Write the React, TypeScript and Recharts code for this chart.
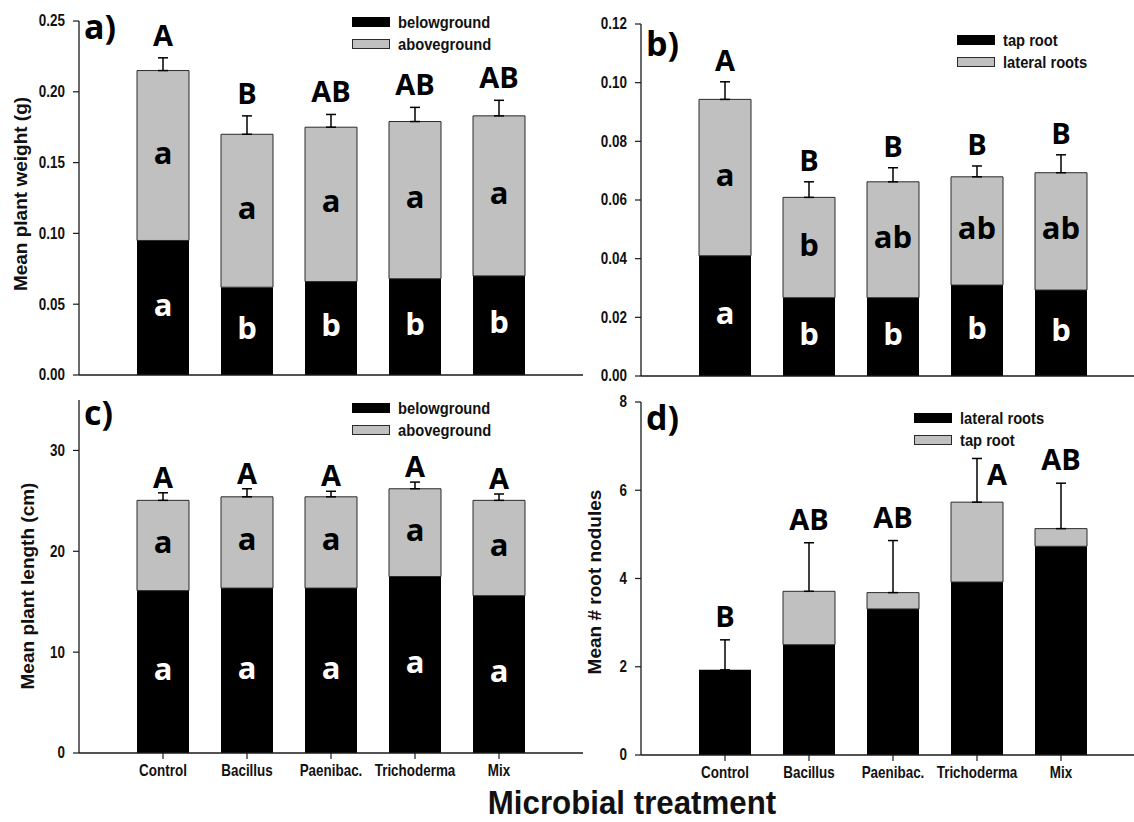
import {
  ComposedChart,
  Bar,
  Scatter,
  XAxis,
  YAxis,
  ErrorBar,
  LabelList,
} from "recharts";

const CATEGORIES = ["Control", "Bacillus", "Paenibac.", "Trichoderma", "Mix"];

// a) plant weight (g)
const WEIGHT_BELOW = [0.095, 0.062, 0.066, 0.068, 0.07];
const WEIGHT_ABOVE = [0.12, 0.108, 0.109, 0.111, 0.113];
const WEIGHT_ERR = [0.009, 0.013, 0.009, 0.01, 0.011];
const WEIGHT_GROUPS = ["A", "B", "AB", "AB", "AB"];
const WEIGHT_BELOW_TAGS = ["a", "b", "b", "b", "b"];
const WEIGHT_ABOVE_TAGS = ["a", "a", "a", "a", "a"];

// b) root weight (g)
const TAP_WEIGHT = [0.041, 0.0267, 0.0267, 0.031, 0.0293];
const LATERAL_WEIGHT = [0.0533, 0.0342, 0.0395, 0.0369, 0.04];
const ROOT_ERR = [0.006, 0.0053, 0.0048, 0.0037, 0.0061];
const ROOT_GROUPS = ["A", "B", "B", "B", "B"];
const TAP_TAGS = ["a", "b", "b", "b", "b"];
const LATERAL_TAGS = ["a", "b", "ab", "ab", "ab"];

// c) plant length (cm)
const LENGTH_BELOW = [16.1, 16.35, 16.35, 17.5, 15.6];
const LENGTH_ABOVE = [8.95, 9.05, 9.05, 8.7, 9.45];
const LENGTH_ERR = [0.75, 0.8, 0.55, 0.66, 0.63];
const LENGTH_GROUPS = ["A", "A", "A", "A", "A"];
const LENGTH_BELOW_TAGS = ["a", "a", "a", "a", "a"];
const LENGTH_ABOVE_TAGS = ["a", "a", "a", "a", "a"];

// d) root nodules
const NODULE_LATERAL = [1.93, 2.5, 3.31, 3.92, 4.73];
const NODULE_TAP = [0, 1.21, 0.37, 1.81, 0.4];
const NODULE_ERR = [0.68, 1.1, 1.18, 0.99, 1.03];
const NODULE_GROUPS = ["B", "AB", "AB", "A", "AB"];

const WEIGHT_TICKS = [0, 0.05, 0.1, 0.15, 0.2, 0.25];
const ROOT_TICKS = [0, 0.02, 0.04, 0.06, 0.08, 0.1, 0.12];
const LENGTH_TICKS = [0, 10, 20, 30];
const NODULE_TICKS = [0, 2, 4, 6, 8];

const BLACK = "#000000";
const GRAY = "#c0c0c0";
const EDGE = "#2a2a2a";
const AXIS = "#1a1a1a";
const ARIAL = "'Liberation Sans', Arial, sans-serif";
const CALIBRI = "'Open Sans', 'Noto Sans', sans-serif";

type Row = {
  cat: string;
  low: number;
  high: number;
  errLow: [number, number] | null;
  errHigh: [number, number] | null;
  top: number;
  group: string;
  lowTag: string;
  highTag: string;
};

function buildRows(
  low: number[],
  high: number[],
  err: number[],
  groups: string[],
  lowTags: string[] = [],
  highTags: string[] = [],
): Row[] {
  return CATEGORIES.map((cat, i) => ({
    cat,
    low: low[i],
    high: high[i],
    // the error bar sits on whichever segment is on top of the stack
    errLow: high[i] > 0 ? null : [0, err[i]],
    errHigh: high[i] > 0 ? [0, err[i]] : null,
    top: low[i] + high[i] + err[i],
    group: groups[i],
    lowTag: lowTags[i] ?? "",
    highTag: highTags[i] ?? "",
  }));
}

function Narrow({
  x,
  y,
  size,
  anchor = "start",
  baseline,
  squeeze = 0.84,
  children,
}: {
  x: number;
  y: number;
  size: number;
  anchor?: "start" | "middle" | "end";
  baseline?: string;
  squeeze?: number;
  children: React.ReactNode;
}) {
  return (
    <text
      transform={`translate(${x},${y}) scale(${squeeze},1)`}
      fontFamily={ARIAL}
      fontWeight="bold"
      fontSize={size}
      textAnchor={anchor}
      dominantBaseline={baseline as any}
      fill="#111"
    >
      {children}
    </text>
  );
}

const insideTag = (color: string) => (props: any) => {
  const vb = props.viewBox ?? props;
  if (!props.value) return null;
  const cx = vb.x + vb.width / 2;
  const cy = vb.y + vb.height / 2;
  return (
    <text
      x={cx}
      y={cy + 8}
      textAnchor="middle"
      fontFamily={CALIBRI}
      fontWeight="bold"
      fontSize={31}
      fill={color}
    >
      {props.value}
    </text>
  );
};

const groupLetter =
  (gap: number, nudge: Record<string, [number, number]>) => (p: any) => {
    const [dx, dy] = nudge[p.payload.cat] ?? [0, -gap];
    return (
      <text
        x={p.cx + dx}
        y={p.cy + dy}
        textAnchor="middle"
        fontFamily={CALIBRI}
        fontWeight="bold"
        fontSize={29}
        fill="#000"
      >
        {p.payload.group}
      </text>
    );
  };

function Panel({
  left,
  top,
  width,
  height,
  margin,
  yWidth,
  xHeight,
  domain,
  ticks,
  digits,
  rows,
  labels,
  padRight,
  gap,
  nudge = {},
}: {
  left: number;
  top: number;
  width: number;
  height: number;
  margin: { top: number; right: number; bottom: number; left: number };
  yWidth: number;
  xHeight: number;
  domain: [number, number];
  ticks: number[];
  digits: number;
  rows: Row[];
  labels: boolean;
  padRight: number;
  gap: number;
  nudge?: Record<string, [number, number]>;
}) {
  return (
    <div style={{ position: "absolute", left, top }}>
      <ComposedChart width={width} height={height} data={rows} margin={margin}>
        <XAxis
          dataKey="cat"
          type="category"
          height={xHeight}
          padding={{ left: 42, right: padRight }}
          axisLine={{ stroke: AXIS, strokeWidth: 1.3 }}
          tickLine={{ stroke: AXIS, strokeWidth: 1.2 }}
          tickSize={6}
          tickMargin={2}
          interval={0}
          tick={
            labels
              ? (t: any) => (
                  <Narrow x={t.x} y={t.y + 15} size={16} anchor="middle">
                    {t.payload.value}
                  </Narrow>
                )
              : false
          }
        />
        <YAxis
          type="number"
          domain={domain}
          ticks={ticks}
          width={yWidth}
          axisLine={{ stroke: AXIS, strokeWidth: 1.3 }}
          tickLine={{ stroke: AXIS, strokeWidth: 1.2 }}
          tickSize={6}
          tickMargin={8}
          interval={0}
          tick={(t: any) => (
            <Narrow x={t.x} y={t.y} size={16} anchor="end" baseline="central">
              {Number(t.payload.value).toFixed(digits)}
            </Narrow>
          )}
        />
        <Bar
          dataKey="low"
          stackId="s"
          fill={BLACK}
          barSize={52}
          isAnimationActive={false}
        >
          <ErrorBar
            dataKey="errLow"
            direction="y"
            width={5}
            stroke="#000"
            strokeWidth={1.5}
          />
          <LabelList dataKey="lowTag" content={insideTag("#ffffff")} />
        </Bar>
        <Bar
          dataKey="high"
          stackId="s"
          fill={GRAY}
          stroke={EDGE}
          strokeWidth={1}
          barSize={52}
          isAnimationActive={false}
        >
          <ErrorBar
            dataKey="errHigh"
            direction="y"
            width={5}
            stroke="#000"
            strokeWidth={1.5}
          />
          <LabelList dataKey="highTag" content={insideTag("#000000")} />
        </Bar>
        <Scatter
          dataKey="top"
          isAnimationActive={false}
          shape={groupLetter(gap, nudge)}
        />
      </ComposedChart>
    </div>
  );
}

function Legend({
  x,
  y,
  first,
  second,
}: {
  x: number;
  y: number;
  first: string;
  second: string;
}) {
  return (
    <g>
      <rect x={x} y={y - 5} width={38} height={10} fill={BLACK} />
      <rect
        x={x + 0.5}
        y={y + 17.5}
        width={37}
        height={9}
        fill={GRAY}
        stroke={EDGE}
        strokeWidth={1}
      />
      <Narrow x={x + 46} y={y} size={16} baseline="central" squeeze={0.92}>
        {first}
      </Narrow>
      <Narrow x={x + 46} y={y + 22} size={16} baseline="central" squeeze={0.92}>
        {second}
      </Narrow>
    </g>
  );
}

function PanelTag({ x, y, children }: { x: number; y: number; children: string }) {
  return (
    <text x={x} y={y} fontFamily={CALIBRI} fontWeight="bold" fontSize={34} fill="#000">
      {children}
    </text>
  );
}

function AxisTitle({ x, y, children }: { x: number; y: number; children: string }) {
  return (
    <text
      transform={`translate(${x},${y}) rotate(-90)`}
      textAnchor="middle"
      dominantBaseline="central"
      fontFamily={ARIAL}
      fontWeight="bold"
      fontSize={19}
      fill="#111"
    >
      {children}
    </text>
  );
}

export default function App() {
  const weightRows = buildRows(
    WEIGHT_BELOW,
    WEIGHT_ABOVE,
    WEIGHT_ERR,
    WEIGHT_GROUPS,
    WEIGHT_BELOW_TAGS,
    WEIGHT_ABOVE_TAGS,
  );
  const rootRows = buildRows(
    TAP_WEIGHT,
    LATERAL_WEIGHT,
    ROOT_ERR,
    ROOT_GROUPS,
    TAP_TAGS,
    LATERAL_TAGS,
  );
  const lengthRows = buildRows(
    LENGTH_BELOW,
    LENGTH_ABOVE,
    LENGTH_ERR,
    LENGTH_GROUPS,
    LENGTH_BELOW_TAGS,
    LENGTH_ABOVE_TAGS,
  );
  const noduleRows = buildRows(NODULE_LATERAL, NODULE_TAP, NODULE_ERR, NODULE_GROUPS);

  return (
    <div
      style={{
        position: "absolute",
        left: 0,
        top: 0,
        width: 1134,
        height: 822,
        background: "#fff",
        overflow: "hidden",
      }}
    >
      <Panel
        left={0}
        top={0}
        width={600}
        height={395}
        margin={{ top: 21, right: 17, bottom: 0, left: 0 }}
        yWidth={79}
        xHeight={20}
        domain={[0, 0.25]}
        ticks={WEIGHT_TICKS}
        digits={2}
        rows={weightRows}
        labels={false}
        padRight={42}
        gap={12}
      />
      <Panel
        left={560}
        top={0}
        width={574}
        height={395}
        margin={{ top: 24, right: 0, bottom: 0, left: 0 }}
        yWidth={81}
        xHeight={19}
        domain={[0, 0.12]}
        ticks={ROOT_TICKS}
        digits={2}
        rows={rootRows}
        labels={false}
        padRight={31}
        gap={11}
      />
      <Panel
        left={0}
        top={380}
        width={600}
        height={440}
        margin={{ top: 20, right: 17, bottom: 40, left: 0 }}
        yWidth={79}
        xHeight={27}
        domain={[0, 35]}
        ticks={LENGTH_TICKS}
        digits={0}
        rows={lengthRows}
        labels={true}
        padRight={42}
        gap={5}
      />
      <Panel
        left={560}
        top={380}
        width={574}
        height={440}
        margin={{ top: 22, right: 0, bottom: 41, left: 0 }}
        yWidth={81}
        xHeight={24}
        domain={[0, 8]}
        ticks={NODULE_TICKS}
        digits={0}
        rows={noduleRows}
        labels={true}
        padRight={31}
        gap={13}
        nudge={{ Trichoderma: [20, 27] }}
      />
      <svg
        width={1134}
        height={822}
        style={{ position: "absolute", left: 0, top: 0, pointerEvents: "none" }}
      >
        <PanelTag x={84} y={39}>a)</PanelTag>
        <PanelTag x={646} y={56}>b)</PanelTag>
        <PanelTag x={84} y={425}>c)</PanelTag>
        <PanelTag x={646} y={430}>d)</PanelTag>
        <AxisTitle x={20} y={194}>Mean plant weight (g)</AxisTitle>
        <AxisTitle x={27} y={586}>Mean plant length (cm)</AxisTitle>
        <AxisTitle x={594} y={582}>Mean # root nodules</AxisTitle>
        <Legend x={352} y={22} first="belowground" second="aboveground" />
        <Legend x={957} y={40} first="tap root" second="lateral roots" />
        <Legend x={352} y={408} first="belowground" second="aboveground" />
        <Legend x={914} y={418} first="lateral roots" second="tap root" />
        <Narrow x={632} y={814} size={34} anchor="middle" squeeze={0.92}>
          Microbial treatment
        </Narrow>
      </svg>
    </div>
  );
}
